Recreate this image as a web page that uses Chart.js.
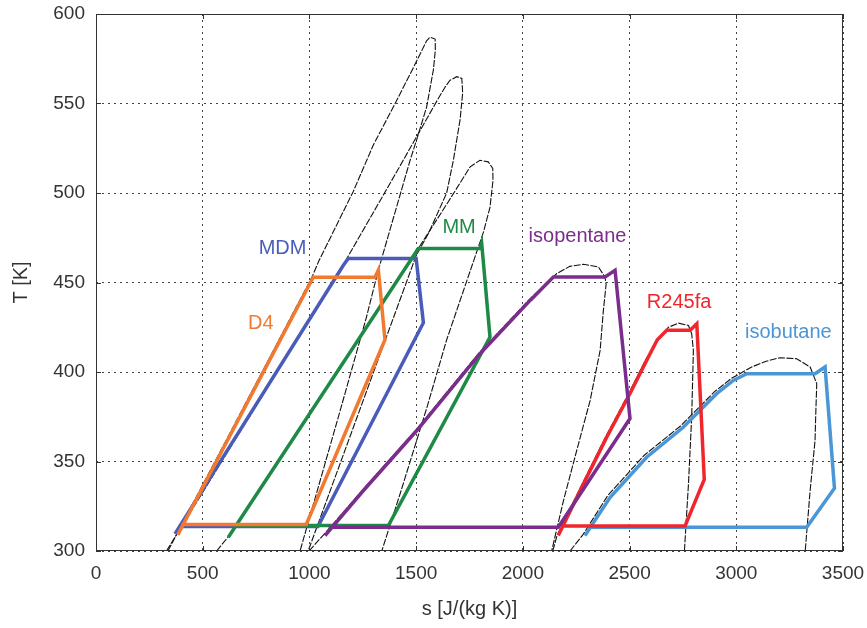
<!DOCTYPE html>
<html>
<head>
<meta charset="utf-8">
<script src="https://cdn.jsdelivr.net/npm/chart.js@4.4.1/dist/chart.umd.min.js"></script>
<style>
    body { margin: 0; background: #fff; }
    #wrap { width: 867px; height: 628px; }
</style>
</head>
<body>
<div id="wrap"><canvas id="tsChart"></canvas></div>
<script>
// fluids, in the order the labels / colours are listed
const fluids = ['D4', 'MDM', 'MM', 'isopentane', 'R245fa', 'isobutane'];
const fluidColors = ['#f27a30', '#4a5cba', '#1f8a46', '#7a2d8c', '#f0262d', '#4b96d6'];

// saturation domes, [s J/(kg K), T K], liquid side -> top -> vapour side
const d4Dome = [[337, 300], [1012, 453], [1044, 462], [1206, 501], [1300, 527], [1393, 548], [1487, 570],
    [1549, 585], [1565, 587], [1589, 586], [1590, 580], [1581, 569], [1549, 548], [1503, 530], [1471, 518],
    [1323, 457], [1268, 431], [1143, 378], [956, 300]];
const mdmDome = [[330, 300], [1159, 460], [1400, 510], [1600, 552], [1640, 560], [1659, 563], [1690, 565],
    [1714, 564], [1718, 556], [1706, 541], [1674, 518], [1643, 500], [1560, 478], [1500, 465], [994, 300]];
const mmDome = [[565, 300], [620, 308], [1510, 469], [1650, 495], [1753, 514.6], [1799, 518.3], [1838, 517.4],
    [1859, 513.7], [1860, 507], [1846, 492], [1815, 478], [1643, 418], [1550, 380], [1425, 332], [1339, 300]];
const isopentaneDome = [[998, 300], [1066, 309], [1245, 333.5], [1495, 367], [1790, 410], [2026, 440],
    [2159, 455], [2220, 459], [2284, 460.2], [2354, 458.7], [2385, 453], [2390, 449], [2377, 434], [2362, 412],
    [2315, 384], [2252, 356], [2190, 328], [2135, 300]];
const r245faDome = [[2140, 300], [2160, 308.6], [2278, 337.5], [2387, 363.6], [2496, 388], [2574, 406.5],
    [2634, 418], [2682, 425], [2729, 427.3], [2776, 426], [2791, 421.4], [2799, 412], [2791, 374.8],
    [2776, 337.5], [2757, 300]];
const isobutaneDome = [[2221, 300], [2281, 309], [2398, 331], [2569, 353.5], [2740, 370], [2898, 389],
    [2978, 396.5], [3072, 402.8], [3140, 406], [3205, 408], [3283, 407.4], [3346, 402.8], [3377, 393.5],
    [3372, 375], [3369, 361.7], [3346, 333.8], [3323, 300]];

// ORC cycles
const d4Cycle = [[383, 309], [1018, 453], [1307, 453], [1323, 457], [1354, 418], [985, 314.8], [400, 314.8]];
const mdmCycle = [[370, 309.6], [1159, 459.6], [1182, 463.4], [1500, 463.4], [1534, 427.5], [1040, 313.7],
    [390, 313.7]];
const mmCycle = [[620, 307.7], [1510, 469], [1799, 469], [1807, 472], [1846, 419.5], [1370, 314.2], [650, 314.2]];
const isopentaneCycle = [[1073, 308.6], [1253, 333.8], [1503, 367.3], [1799, 410.2], [2034, 440], [2143, 453.1],
    [2385, 453.1], [2432, 456.8], [2502, 374], [2166, 313.3], [1090, 313.3]];
const r245faCycle = [[2166, 308.6], [2284, 337.5], [2393, 363.6], [2502, 388], [2580, 406.5], [2630, 418],
    [2674, 423.3], [2784, 423.3], [2815, 427], [2850, 340], [2760, 314], [2180, 314]];
const isobutaneCycle = [[2291, 308.6], [2409, 330], [2580, 352.4], [2750, 369], [2908, 387.9], [2986, 395.3],
    [3049, 399], [3369, 399], [3416, 402.8], [3460, 335], [3330, 313.3], [2310, 313.3]];

// where the fluid names sit (data units)
const labelS = [772, 874, 1701, 2256, 2732, 3244];
const labelT = [427, 469, 480.6, 475.5, 439, 422];

const domes = [d4Dome, mdmDome, mmDome, isopentaneDome, r245faDome, isobutaneDome];
const cycles = [d4Cycle, mdmCycle, mmCycle, isopentaneCycle, r245faCycle, isobutaneCycle];
const cycleDrawOrder = [3, 4, 5, 0, 2, 1];   // first one ends up on top

const FONT = '"Liberation Sans", Arial, Helvetica, sans-serif';

function toXY(pts) {
    return pts.map(p => ({x: p[0], y: p[1]}));
}

const datasets = [];
cycleDrawOrder.forEach(i => {
    datasets.push({
        data: toXY(cycles[i]),
        showLine: true,
        borderColor: fluidColors[i],
        borderWidth: 3.5,
        borderJoinStyle: 'miter',
        pointRadius: 0,
        fill: false
    });
});
// domes go after, so they are painted underneath the cycles
domes.forEach(d => {
    datasets.push({
        data: toXY(d),
        showLine: true,
        borderColor: '#111',
        borderWidth: 1.1,
        borderDash: [7, 1.5],
        pointRadius: 0,
        fill: false
    });
});

// box round the plot + MATLAB style inward ticks
const frameTicks = {
    id: 'frameTicks',
    afterDraw(chart) {
        const {ctx, chartArea: a, scales: {x, y}} = chart;
        ctx.save();
        ctx.strokeStyle = '#333';
        ctx.lineWidth = 1;
        ctx.strokeRect(a.left + 0.5, a.top + 0.5, a.right - a.left - 1, a.bottom - a.top - 1);
        ctx.beginPath();
        x.ticks.forEach(t => {
            const px = Math.round(x.getPixelForValue(t.value)) + 0.5;
            ctx.moveTo(px, a.bottom); ctx.lineTo(px, a.bottom - 5);
            ctx.moveTo(px, a.top); ctx.lineTo(px, a.top + 5);
        });
        y.ticks.forEach(t => {
            const py = Math.round(y.getPixelForValue(t.value)) + 0.5;
            ctx.moveTo(a.left, py); ctx.lineTo(a.left + 5, py);
            ctx.moveTo(a.right, py); ctx.lineTo(a.right - 5, py);
        });
        ctx.stroke();
        ctx.restore();
    }
};

const curveLabels = {
    id: 'curveLabels',
    afterDatasetsDraw(chart) {
        const {ctx, scales: {x, y}} = chart;
        ctx.save();
        ctx.font = '20px ' + FONT;
        ctx.textAlign = 'center';
        ctx.textBaseline = 'middle';
        fluids.forEach((name, i) => {
            ctx.fillStyle = fluidColors[i];
            ctx.fillText(name, x.getPixelForValue(labelS[i]), y.getPixelForValue(labelT[i]));
        });
        ctx.restore();
    }
};

const ctx = document.getElementById('tsChart').getContext('2d');
new Chart(ctx, {
    type: 'scatter',
    data: {datasets: datasets},
    options: {
        responsive: true,
        maintainAspectRatio: false,
        animation: false,
        layout: {padding: {top: 14, right: 24, left: 0, bottom: 0}},
        plugins: {
            legend: {display: false},
            tooltip: {enabled: false}
        },
        scales: {
            x: {
                type: 'linear',
                min: 0,
                max: 3500,
                ticks: {stepSize: 500, padding: 11, color: '#333', font: {family: FONT, size: 19},
                    callback: v => String(v)},
                grid: {color: '#444', lineWidth: 1, drawTicks: false},
                border: {display: false, dash: [2, 4]},
                title: {display: true, text: 's [J/(kg K)]', color: '#333',
                    font: {family: FONT, size: 20}, padding: {top: 0, bottom: 7}},
                afterFit(scale) {
                    scale.height = 77;
                    scale.paddingLeft = 0;
                    scale.paddingRight = 0;
                }
            },
            y: {
                type: 'linear',
                min: 300,
                max: 600,
                ticks: {stepSize: 50, padding: 11, color: '#333', font: {family: FONT, size: 19},
                    callback: v => String(v)},
                grid: {color: '#444', lineWidth: 1, drawTicks: false},
                border: {display: false, dash: [2, 4]},
                title: {display: true, text: 'T [K]', color: '#333',
                    font: {family: FONT, size: 20}, padding: {top: 9, bottom: 0}},
                afterFit(scale) {
                    scale.width = 96;
                    scale.paddingTop = 0;
                    scale.paddingBottom = 0;
                }
            }
        }
    },
    plugins: [frameTicks, curveLabels]
});
</script>
</body>
</html>
